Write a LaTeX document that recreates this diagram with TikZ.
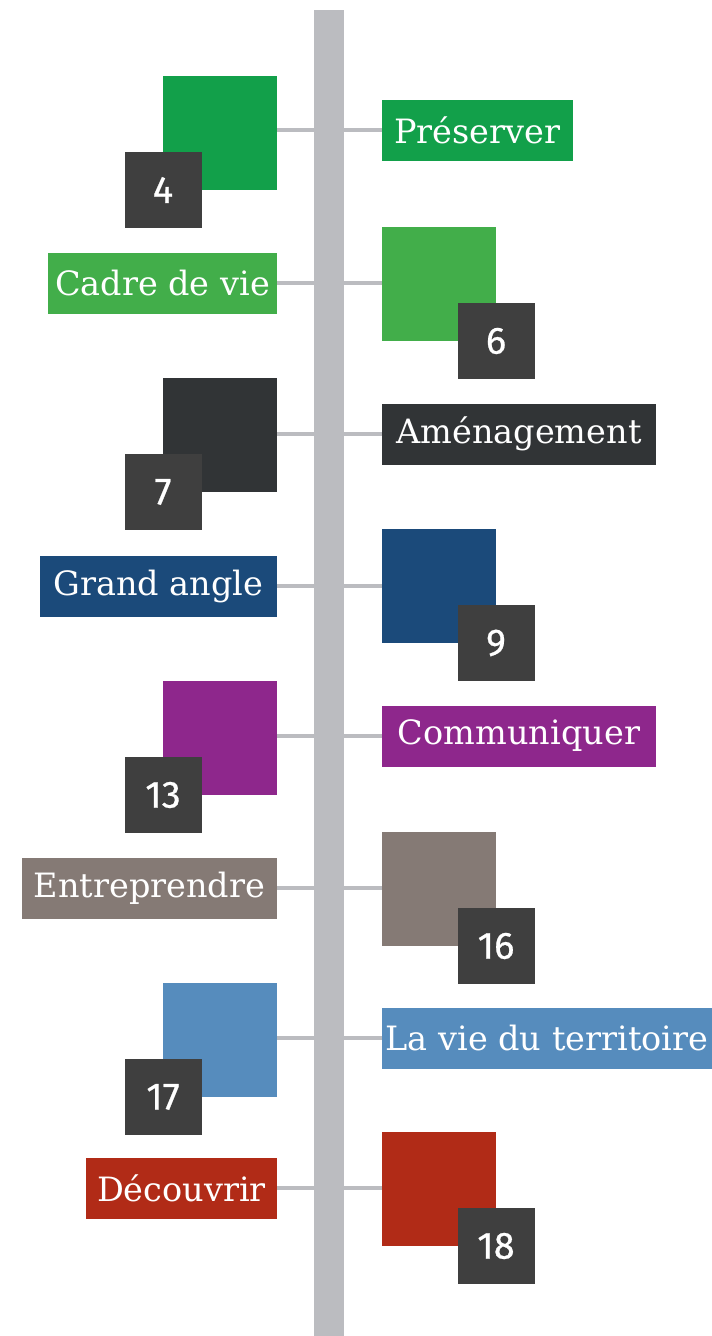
\documentclass[tikz,border=0pt]{standalone}
\usepackage{fontspec}
\setmainfont{DejaVu Serif}
\newfontfamily\numfont[FakeBold=0.6]{Fira Sans}
\definecolor{spinegray}{HTML}{BBBCC0}
\definecolor{numgray}{HTML}{3F3F3F}
\definecolor{cgreenA}{HTML}{12A04A}
\definecolor{cgreenB}{HTML}{42AE4A}
\definecolor{cdark}{HTML}{313436}
\definecolor{cblue}{HTML}{1B4A7A}
\definecolor{cpurple}{HTML}{8E278C}
\definecolor{ctaupe}{HTML}{857A75}
\definecolor{clblue}{HTML}{568CBD}
\definecolor{cred}{HTML}{B12B17}
\tikzset{
  sq/.style={fill=#1, draw=none, minimum width=114, minimum height=114, inner sep=0, outer sep=0},
  numbox/.style={fill=numgray, draw=none, minimum width=77, minimum height=76, inner sep=0, outer sep=0, text=white, font=\numfont\fontsize{38}{40}\selectfont},
  lbl/.style={fill=#1, draw=none, minimum height=61, inner sep=0, outer sep=0, text=white, font=\fontsize{33.5}{36}\selectfont},
  conn/.style={draw=spinegray, line width=4.5}
}
\begin{document}
\begin{tikzpicture}[x=1pt,y=-1pt]
\useasboundingbox (0,0) rectangle (712,1336);
\node[fill=spinegray, draw=none, inner sep=0, outer sep=0, minimum width=30, minimum height=1326, anchor=north] (spine) at (329,10) {};
% Row 1
\node[sq=cgreenA] (s1) at (220,133) {};
\node[numbox] (n1) at (s1.south west) {4};
\node[lbl=cgreenA, minimum width=191, anchor=west] (l1) at (382,130) {Préserver};
% Row 2
\node[sq=cgreenB] (s2) at (439,284) {};
\node[numbox] (n2) at (s2.south east) {6};
\node[lbl=cgreenB, minimum width=229, anchor=east] (l2) at (277,283) {Cadre de vie};
% Row 3
\node[sq=cdark] (s3) at (220,435) {};
\node[numbox] (n3) at (s3.south west) {7};
\node[lbl=cdark, minimum width=274, anchor=west] (l3) at (382,434) {Aménagement};
% Row 4
\node[sq=cblue] (s4) at (439,586) {};
\node[numbox] (n4) at (s4.south east) {9};
\node[lbl=cblue, minimum width=237, anchor=east] (l4) at (277,586) {Grand angle};
% Row 5
\node[sq=cpurple] (s5) at (220,738) {};
\node[numbox] (n5) at (s5.south west) {13};
\node[lbl=cpurple, minimum width=274, anchor=west] (l5) at (382,736) {Communiquer};
% Row 6
\node[sq=ctaupe] (s6) at (439,889) {};
\node[numbox] (n6) at (s6.south east) {16};
\node[lbl=ctaupe, minimum width=255, anchor=east] (l6) at (277,888) {Entreprendre};
% Row 7
\node[sq=clblue] (s7) at (220,1040) {};
\node[numbox] (n7) at (s7.south west) {17};
\node[lbl=clblue, minimum width=330, anchor=west] (l7) at (382,1038) {La vie du territoire};
% Row 8
\node[sq=cred] (s8) at (439,1189) {};
\node[numbox] (n8) at (s8.south east) {18};
\node[lbl=cred, minimum width=191, anchor=east] (l8) at (277,1188) {Découvrir};
% connectors
\draw[conn] (l1.west) -- (l1.west -| spine.east);
\draw[conn] (s1.east |- l1.west) -- (l1.west -| spine.west);
\draw[conn] (l2.east) -- (l2.east -| spine.west);
\draw[conn] (s2.west |- l2.east) -- (l2.east -| spine.east);
\draw[conn] (l3.west) -- (l3.west -| spine.east);
\draw[conn] (s3.east |- l3.west) -- (l3.west -| spine.west);
\draw[conn] (l4.east) -- (l4.east -| spine.west);
\draw[conn] (s4.west |- l4.east) -- (l4.east -| spine.east);
\draw[conn] (l5.west) -- (l5.west -| spine.east);
\draw[conn] (s5.east |- l5.west) -- (l5.west -| spine.west);
\draw[conn] (l6.east) -- (l6.east -| spine.west);
\draw[conn] (s6.west |- l6.east) -- (l6.east -| spine.east);
\draw[conn] (l7.west) -- (l7.west -| spine.east);
\draw[conn] (s7.east |- l7.west) -- (l7.west -| spine.west);
\draw[conn] (l8.east) -- (l8.east -| spine.west);
\draw[conn] (s8.west |- l8.east) -- (l8.east -| spine.east);
\end{tikzpicture}
\end{document}
